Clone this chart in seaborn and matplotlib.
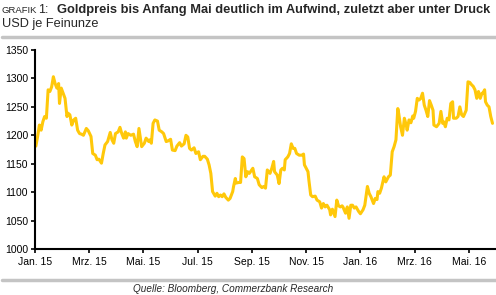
import matplotlib
matplotlib.use("Agg")
import matplotlib.pyplot as plt
import seaborn as sns
import pandas as pd
import numpy as np
from matplotlib.lines import Line2D

# ---- data ----
dates = [
    "2015-01-02","2015-01-04","2015-01-06","2015-01-08","2015-01-10","2015-01-12","2015-01-14","2015-01-16",
    "2015-01-18","2015-01-20","2015-01-22","2015-01-24","2015-01-26","2015-01-28","2015-01-29","2015-01-31",
    "2015-02-02","2015-02-04","2015-02-06","2015-02-07","2015-02-09","2015-02-11","2015-02-13","2015-02-15",
    "2015-02-17","2015-02-19","2015-02-21","2015-02-23","2015-02-26","2015-02-28",
    "2015-03-03","2015-03-05","2015-03-08","2015-03-10","2015-03-12","2015-03-15","2015-03-17","2015-03-19",
    "2015-03-22","2015-03-25","2015-03-27","2015-03-29","2015-03-31",
    "2015-04-03","2015-04-05","2015-04-07","2015-04-09","2015-04-11","2015-04-12","2015-04-14","2015-04-17",
    "2015-04-20","2015-04-22","2015-04-24","2015-04-26","2015-04-29",
    "2015-05-02","2015-05-04","2015-05-07","2015-05-08","2015-05-10","2015-05-12","2015-05-14","2015-05-17",
    "2015-05-19","2015-05-22","2015-05-24","2015-05-27","2015-05-29",
    "2015-06-01","2015-06-03","2015-06-06","2015-06-08","2015-06-11","2015-06-13","2015-06-16","2015-06-18",
    "2015-06-20","2015-06-22","2015-06-24","2015-06-27","2015-06-29",
    "2015-07-02","2015-07-04","2015-07-07","2015-07-09","2015-07-12","2015-07-14","2015-07-16","2015-07-18",
    "2015-07-21","2015-07-23","2015-07-25","2015-07-27","2015-07-29","2015-07-31",
    "2015-08-02","2015-08-05","2015-08-07","2015-08-10","2015-08-11","2015-08-13","2015-08-14","2015-08-17",
    "2015-08-19","2015-08-21","2015-08-23","2015-08-25","2015-08-27","2015-08-29",
    "2015-09-02","2015-09-04","2015-09-07","2015-09-09","2015-09-12","2015-09-14","2015-09-16","2015-09-18",
    "2015-09-21","2015-09-23","2015-09-25","2015-09-26","2015-09-29",
    "2015-10-01","2015-10-03","2015-10-05","2015-10-07","2015-10-08","2015-10-11","2015-10-13","2015-10-15",
    "2015-10-17","2015-10-19","2015-10-21","2015-10-24","2015-10-27","2015-10-29","2015-10-30",
    "2015-11-03","2015-11-04","2015-11-06","2015-11-08","2015-11-11","2015-11-13","2015-11-16","2015-11-18",
    "2015-11-20","2015-11-22","2015-11-24","2015-11-27","2015-11-28","2015-11-30",
    "2015-12-03","2015-12-05","2015-12-07","2015-12-09","2015-12-11","2015-12-12","2015-12-15","2015-12-17",
    "2015-12-19","2015-12-21","2015-12-23","2015-12-25","2015-12-27","2015-12-30",
    "2016-01-01","2016-01-04","2016-01-06","2016-01-09","2016-01-11","2016-01-13","2016-01-16","2016-01-18",
    "2016-01-20","2016-01-21","2016-01-23","2016-01-25","2016-01-28","2016-01-30",
    "2016-02-02","2016-02-04","2016-02-06","2016-02-08","2016-02-10","2016-02-12","2016-02-13","2016-02-15",
    "2016-02-17","2016-02-19","2016-02-21","2016-02-22","2016-02-24","2016-02-26","2016-02-28","2016-02-29",
    "2016-03-02","2016-03-04","2016-03-06","2016-03-08","2016-03-10","2016-03-12","2016-03-14","2016-03-16",
    "2016-03-18","2016-03-20","2016-03-22","2016-03-23","2016-03-26","2016-03-29","2016-03-31",
    "2016-04-02","2016-04-03","2016-04-05","2016-04-07","2016-04-09","2016-04-11","2016-04-13","2016-04-14",
    "2016-04-17","2016-04-19","2016-04-21","2016-04-23","2016-04-25","2016-04-28","2016-04-30",
    "2016-05-02","2016-05-04","2016-05-06","2016-05-08","2016-05-10","2016-05-12","2016-05-14","2016-05-16",
    "2016-05-17","2016-05-19","2016-05-20","2016-05-22","2016-05-24","2016-05-26","2016-05-28",
]
gold = [
    1181,1198,1218,1209,1224,1233,1230,1280,1277,1285,1303,1291,1283,1291,1256,1283,
    1274,1265,1233,1239,1236,1218,1227,1230,1209,1203,1202,1200,1212,1208,
    1198,1168,1165,1157,1158,1151,1168,1183,1189,1205,1192,1186,1203,
    1206,1214,1203,1195,1206,1195,1203,1200,1202,1189,1180,1212,1180,
    1186,1195,1189,1192,1186,1221,1227,1225,1209,1206,1203,1189,1190,
    1193,1174,1173,1181,1187,1181,1185,1200,1197,1177,1174,1178,1168,
    1171,1157,1163,1163,1158,1148,1133,1101,1093,1098,1092,1095,1092,1097,
    1091,1086,1089,1101,1110,1124,1116,1117,1117,1162,1159,1127,1136,1133,
    1142,1127,1124,1113,1108,1110,1107,1139,1133,1142,1154,1136,1130,
    1115,1139,1142,1139,1157,1162,1168,1185,1177,1177,1168,1165,1165,1167,1148,
    1136,1121,1095,1092,1093,1086,1083,1072,1080,1074,1077,1069,1060,1070,
    1057,1086,1076,1074,1076,1074,1063,1074,1054,1077,1077,1072,1074,1066,
    1062,1069,1077,1110,1098,1092,1080,1089,1087,1101,1098,1107,1127,1118,
    1127,1130,1171,1180,1192,1247,1238,1215,1200,1230,1218,1209,1227,1222,1234,1230,
    1242,1265,1262,1265,1274,1253,1244,1233,1261,1253,1244,1218,1215,1221,1242,
    1221,1224,1215,1230,1227,1256,1259,1230,1230,1233,1250,1236,1233,1244,1294,
    1293,1289,1286,1280,1265,1277,1265,1274,1274,1280,1259,1253,1250,1233,1221,
]
tick_labels = ["Jan. 15", "Mrz. 15", "Mai. 15", "Jul. 15", "Sep. 15",
               "Nov. 15", "Jan. 16", "Mrz. 16", "Mai. 16"]
y_ticks = [1000, 1050, 1100, 1150, 1200, 1250, 1300, 1350]

# ---- position: months since Jan 2015 (equal month widths) ----
d = pd.to_datetime(pd.Series(dates))
pos = (d.dt.year - 2015) * 12 + (d.dt.month - 1) + (d.dt.day - 1) / d.dt.days_in_month
df = pd.DataFrame({"pos": pos, "gold": gold})

sns.set_theme(style="ticks")
plt.rcParams["font.family"] = ["Liberation Sans", "DejaVu Sans"]

fig = plt.figure(figsize=(4.96, 2.95), dpi=100)
ax = fig.add_axes([35/496, 1 - 249/295, 1 - 35/496, (249 - 50)/295])

sns.lineplot(data=df, x="pos", y="gold", ax=ax, color="#FFC80A", linewidth=2.2)

ax.set_xlim(0, 17)
ax.set_ylim(1000, 1350)
ax.set_xticks(np.arange(0, 17, 2))
ax.set_xticklabels(tick_labels)
ax.set_yticks(y_ticks)
ax.set_xlabel("")
ax.set_ylabel("")
ax.tick_params(axis="both", labelsize=7.5, colors="black", length=3, width=1.2, direction="out", pad=2)
ax.tick_params(axis="x", pad=3)
for s in ["top", "right"]:
    ax.spines[s].set_visible(False)
for s in ["left", "bottom"]:
    ax.spines[s].set_color("black")
    ax.spines[s].set_linewidth(1.5)
ax.set_facecolor("white")

# header
fig.text(2/496, 1 - 10.5/295, "GRAFIK", fontsize=6.8, va="center", ha="left")
fig.text(38/496, 1 - 10/295, "1:", fontsize=9, va="center", ha="left")
fig.text(57/496, 1 - 10/295, "Goldpreis bis Anfang Mai deutlich im Aufwind, zuletzt aber unter Druck",
         fontsize=9.3, fontweight="bold", va="center", ha="left")
fig.text(2/496, 1 - 24/295, "USD je Feinunze", fontsize=9.2, va="center", ha="left")

fig.add_artist(Line2D([2/496, 496/496], [1 - 36.5/295, 1 - 36.5/295], color="#c4c4c4", linewidth=2.5,
                      transform=fig.transFigure))
fig.add_artist(Line2D([2/496, 496/496], [1 - 279.5/295, 1 - 279.5/295], color="#c4c4c4", linewidth=2.5,
                      transform=fig.transFigure))
fig.text(233/496, 1 - 289/295, "Quelle: Bloomberg, Commerzbank Research", fontsize=7.2,
         style="italic", va="center", ha="center")

fig.savefig("out.png", dpi=100, facecolor="white")
